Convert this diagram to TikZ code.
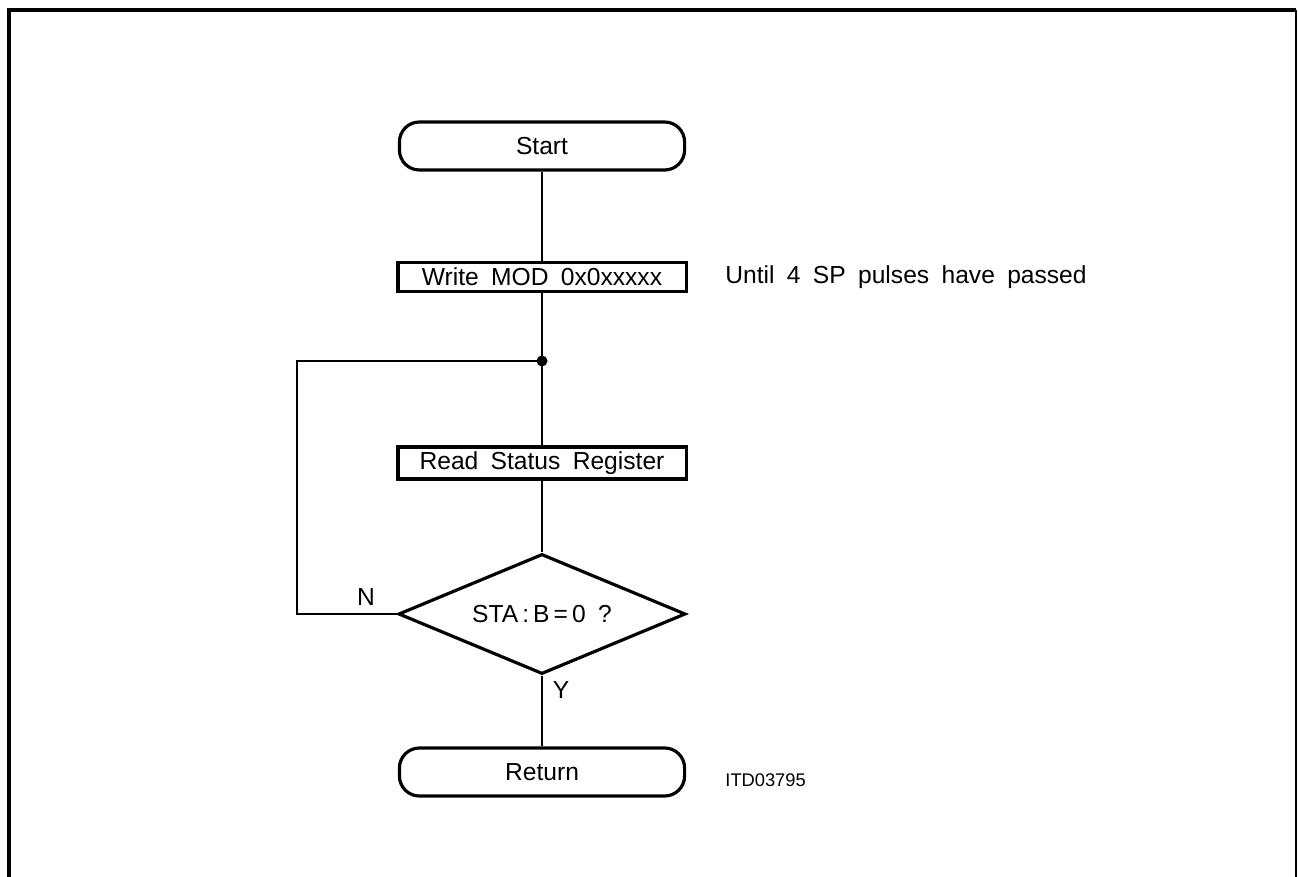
\documentclass[tikz,border=0pt]{standalone}
\usepackage{fontspec}
\setmainfont{Liberation Sans}
\usetikzlibrary{shapes.geometric}

\tikzset{
  box/.style={draw, line width=0.9pt, inner sep=0pt},
  termbox/.style={box, rounded corners=0.2cm, minimum width=2.85cm, minimum height=0.48cm},
  stepbox/.style={box, minimum width=2.88cm, minimum height=0.29cm},
  testbox/.style={box, diamond, aspect=2.4, minimum width=2.87cm, minimum height=1.2cm},
  flow/.style={line width=0.35pt},
  wsp/.style={execute at begin node={\spaceskip=0.5em plus 0.1em\relax}}
}

\begin{document}
\begin{tikzpicture}[x=0.01cm, y=-0.01cm, font=\fontsize{7}{8.5}\selectfont, wsp]
    \useasboundingbox (0,0) rectangle (1298,877);

    % frame
    \draw[line width=0.9pt] (9,877) -- (9,10) -- (1296,10);
    \draw[line width=0.45pt] (1296,10) -- (1296,877);

    \node[termbox] (start) at (542,146) {Start};
    \node[stepbox] (write) at (542,277) {Write MOD 0x0xxxxx};
    \coordinate (join) at (542,361);
    \node[stepbox, minimum height=0.32cm] (read) at (542,463) {Read Status Register};
    \node[testbox] (check) at (542,614) {STA\,:\,B\,=\,0 ?};
    \node[termbox] (ret) at (542,772) {Return};
    \coordinate (loop) at (297,361);

    \node[anchor=west] (note) at (713,277) {Until 4 SP pulses have passed};
    \node (nlab) at (366,597) {N};
    \node (ylab) at (561,690) {Y};
    \node[anchor=west, font=\fontsize{5.2}{6}\selectfont] (tag) at (713,780) {ITD03795};

    \draw[flow] (start) -- (write) (write) -- (join) (join) -- (read) (read) -- (check) (check) -- (ret);
    \draw[flow] (check.west) -| (loop) -- (join);
    \fill (join) circle (5.5);
  \end{tikzpicture}
\end{document}
